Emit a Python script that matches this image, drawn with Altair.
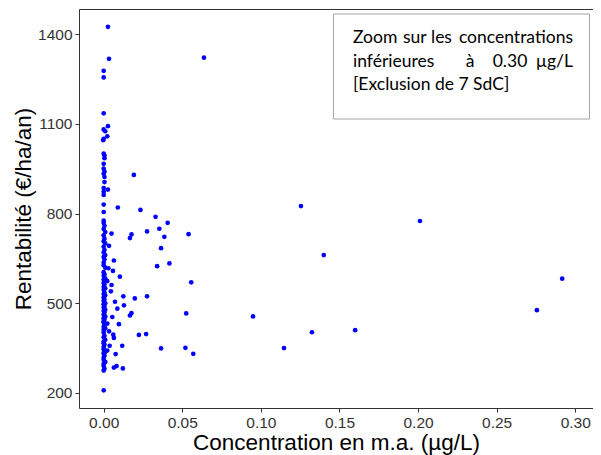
import altair as alt
import pandas as pd

# --- data ---
conc = [
    0.0027, 0.0638, 0.0034, 0.0, 0.0, 0.0, 0.0027, 0.0, 0.001, 0.0023, 0.0, -0.0003,
    0.0, 0.0005, 0.0005, 0.0, 0.0, 0.0005, 0.0, 0.0005, 0.0192, 0.0005, 0.0, 0.0027,
    0.0, 0.0,
    0.0, 0.009, 0.0234, 0.0, 0.033, 0.0, 0.0407, 0.0, 0.0005, 0.0354, 0.0, 0.0276,
    0.001, 0.005, 0.0177, 0.0, 0.054, 0.0386, 0.0167, 0.0005, 0.0, 0.001, 0.0034, 0.0,
    0.0365, 0.0005, 0.0, 0.001, 0.0, 0.0065, 0.0005, 0.0, 0.0418, 0.034, 0.0, 0.001,
    0.003, 0.0059, 0.0, 0.0005, 0.0, 0.0103, 0.001, 0.0, 0.0023, 0.0557, 0.0, 0.0005,
    0.005, 0.0, 0.001, 0.0, 0.0046, 0.0005, 0.0, 0.0125, 0.0276, 0.001, 0.0, 0.0198,
    0.0005, 0.0, 0.0072, 0.001, 0.0, 0.0129, 0.0005, 0.0, 0.0087, 0.001, 0.0, 0.0177,
    0.0525, 0.0005, 0.0, 0.0167, 0.095, 0.0055, 0.001, 0.0, 0.0005, 0.0, 0.0023, 0.0097,
    0.0, 0.0005, 0.0, 0.001, 0.0, 0.1325, 0.0034, 0.0, 0.16, 0.0061, 0.0224, 0.027,
    0.0005, 0.0065, 0.0, 0.001, 0.0, 0.0, 0.0118, 0.0038, 0.0005, 0.0, 0.052, 0.1147,
    0.0365, 0.0, 0.0023, 0.001, 0.0076, 0.057, 0.0, 0.0005, 0.0, 0.0, 0.001, 0.0,
    0.0082, 0.0065, 0.0122, 0.0, 0.0005, 0.0, 0.0,
    0.1255, 0.2012, 0.140, 0.2917, 0.2756,
]
rentab = [
    1424, 1321, 1317, 1277, 1255, 1135, 1092, 1081, 1075, 1058, 1050, 1045,
    1000, 994, 985, 966, 950, 940, 933, 922, 929, 905, 885, 880,
    873, 862,
    830, 820, 812, 805, 789, 776, 769, 768, 759, 749, 748, 740,
    738, 733, 730, 727, 731, 722, 718, 716, 707, 700, 692, 689,
    684, 678, 670, 661, 655, 643, 647, 636, 633, 624, 627, 619,
    617, 608, 604, 597, 592, 589, 583, 579, 574, 570, 568, 563,
    561, 555, 550, 545, 540, 536, 531, 523, 523, 526, 519, 516,
    512, 508, 505, 500, 497, 493, 489, 486, 482, 478, 474, 467,
    466, 469, 462, 459, 456, 454, 456, 450, 445, 440, 432, 430,
    436, 426, 421, 416, 411, 403, 406, 402, 410, 395, 394, 397,
    391, 384, 386, 378, 372, 366, 358, 358, 362, 354, 351, 350,
    349, 346, 342, 337, 330, 331, 333, 325, 318, 311, 304, 297,
    290, 285, 282, 290, 281, 275, 209,
    825, 775, 661, 582, 477,
]

x_ticks = [0.0, 0.05, 0.10, 0.15, 0.20, 0.25, 0.30]
y_ticks = [200, 500, 800, 1100, 1400]

note_line1 = ["Zoom", "sur", "les", "concentrations"]
note_line2 = ["inférieures", "à", "0.30", "µg/L"]
note_line3 = "[Exclusion de 7 SdC]"

df = pd.DataFrame({"conc": conc, "rentab": rentab})
one = pd.DataFrame({"k": [0]})

AX_FONT = "Liberation Sans"
NOTE_FONT = "Lato"

points = alt.Chart(df).mark_circle(size=22, color="#0000FF", opacity=1).encode(
    x=alt.X(
        "conc:Q",
        scale=alt.Scale(domain=[-0.0157, 0.3113], nice=False, zero=False),
        axis=alt.Axis(
            values=x_ticks, format=".2f", title="Concentration en m.a. (µg/L)",
            grid=False, domain=False, tickSize=4, tickColor="#333333",
            labelFont=AX_FONT, labelFontSize=15.5, labelColor="#333333", labelPadding=3,
            titleFont=AX_FONT, titleFontSize=22.5, titleFontWeight="normal",
            titleColor="#000000", titlePadding=1,
        ),
    ),
    y=alt.Y(
        "rentab:Q",
        scale=alt.Scale(domain=[149.8, 1483.7], nice=False, zero=False),
        axis=alt.Axis(
            values=y_ticks, format="d", title="Rentabilité (€/ha/an)",
            grid=False, domain=False, tickSize=4, tickColor="#333333",
            labelFont=AX_FONT, labelFontSize=15.5, labelColor="#333333", labelPadding=3,
            titleFont=AX_FONT, titleFontSize=22.5, titleFontWeight="normal",
            titleColor="#000000", titlePadding=2,
        ),
    ),
)

box = alt.Chart(one).mark_rect(fill="white", stroke="#A6A6A6", strokeWidth=1).encode(
    x=alt.value(254.5), x2=alt.value(510.5), y=alt.value(5), y2=alt.value(110)
)

def word(t, x, y, align):
    return alt.Chart(one).mark_text(
        text=t, font=NOTE_FONT, fontSize=17.5, color="#000000",
        align=align, baseline="alphabetic"
    ).encode(x=alt.value(x), y=alt.value(y))

texts = [
    word(note_line1[0], 274, 34, "left"),
    word(note_line1[1], 324, 34, "left"),
    word(note_line1[2], 352, 34, "left"),
    word(note_line1[3], 494, 34, "right"),
    word(note_line2[0], 274, 58, "left"),
    word(note_line2[1], 391, 58, "center"),
    word(note_line2[2], 431, 58, "center"),
    word(note_line2[3], 494, 58, "right"),
    word(note_line3, 274, 81, "left"),
]

chart = alt.layer(points, box, *texts).properties(
    width=514, height=399,
    autosize=alt.AutoSizeParams(type="none"),
    padding={"left": 71, "top": 1, "right": 0, "bottom": 47},
    background="white",
).configure_view(stroke="#333333", strokeWidth=1)

chart.save("out.html", embed_options={"renderer": "svg", "actions": False})
